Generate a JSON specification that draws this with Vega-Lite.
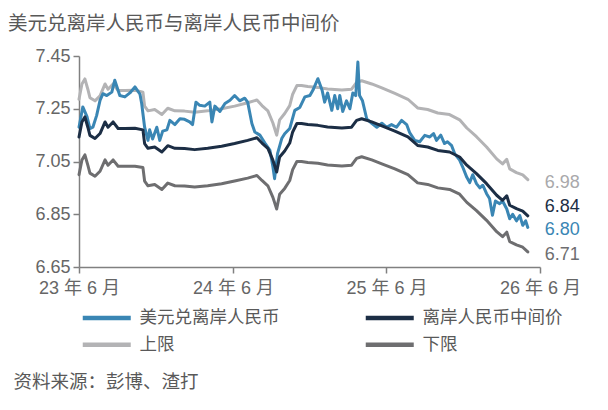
{
  "$schema": "https://vega.github.io/schema/vega-lite/v6.json",
  "width": 461,
  "height": 211,
  "autosize": {"type": "none"},
  "padding": {"left": 79, "top": 56, "right": 68, "bottom": 143},
  "title": {
    "text": "美元兑离岸人民币与离岸人民币中间价",
    "anchor": "start",
    "frame": "group",
    "dx": -71,
    "dy": 23,
    "offset": 21,
    "baseline": "alphabetic",
    "fontSize": 19.5,
    "fontWeight": "normal",
    "color": "#595959"
  },
  "datasets": {
    "spot": [
      {"date": "2023-06-01", "美元兑离岸人民币": 7.18},
      {"date": "2023-06-10", "美元兑离岸人民币": 7.257},
      {"date": "2023-06-20", "美元兑离岸人民币": 7.22},
      {"date": "2023-06-27", "美元兑离岸人民币": 7.175},
      {"date": "2023-07-04", "美元兑离岸人民币": 7.18},
      {"date": "2023-07-13", "美元兑离岸人民币": 7.225},
      {"date": "2023-07-21", "美元兑离岸人民币": 7.282},
      {"date": "2023-07-28", "美元兑离岸人民币": 7.307},
      {"date": "2023-08-06", "美元兑离岸人民币": 7.30},
      {"date": "2023-08-18", "美元兑离岸人民币": 7.313},
      {"date": "2023-08-25", "美元兑离岸人民币": 7.358},
      {"date": "2023-09-06", "美元兑离岸人民币": 7.30},
      {"date": "2023-09-18", "美元兑离岸人民币": 7.295},
      {"date": "2023-09-30", "美元兑离岸人民币": 7.31},
      {"date": "2023-10-12", "美元兑离岸人民币": 7.333},
      {"date": "2023-10-24", "美元兑离岸人民币": 7.305},
      {"date": "2023-10-28", "美元兑离岸人民币": 7.27},
      {"date": "2023-11-04", "美元兑离岸人民币": 7.18},
      {"date": "2023-11-12", "美元兑离岸人民币": 7.13},
      {"date": "2023-11-16", "美元兑离岸人民币": 7.17},
      {"date": "2023-11-23", "美元兑离岸人民币": 7.135},
      {"date": "2023-12-03", "美元兑离岸人民币": 7.18},
      {"date": "2023-12-10", "美元兑离岸人民币": 7.13},
      {"date": "2023-12-17", "美元兑离岸人民币": 7.165},
      {"date": "2023-12-27", "美元兑离岸人民币": 7.17},
      {"date": "2024-01-03", "美元兑离岸人民币": 7.206},
      {"date": "2024-01-15", "美元兑离岸人民币": 7.19},
      {"date": "2024-01-27", "美元兑离岸人民币": 7.212},
      {"date": "2024-02-07", "美元兑离岸人民币": 7.21},
      {"date": "2024-02-19", "美元兑离岸人民币": 7.20},
      {"date": "2024-02-26", "美元兑离岸人民币": 7.19},
      {"date": "2024-03-05", "美元兑离岸人民币": 7.275},
      {"date": "2024-03-14", "美元兑离岸人民币": 7.263},
      {"date": "2024-03-26", "美元兑离岸人民币": 7.26},
      {"date": "2024-04-07", "美元兑离岸人民币": 7.275},
      {"date": "2024-04-12", "美元兑离岸人民币": 7.20},
      {"date": "2024-04-19", "美元兑离岸人民币": 7.26},
      {"date": "2024-05-01", "美元兑离岸人民币": 7.24},
      {"date": "2024-05-13", "美元兑离岸人民币": 7.27},
      {"date": "2024-05-25", "美元兑离岸人民币": 7.282},
      {"date": "2024-06-05", "美元兑离岸人民币": 7.30},
      {"date": "2024-06-17", "美元兑离岸人民币": 7.28},
      {"date": "2024-06-29", "美元兑离岸人民币": 7.29},
      {"date": "2024-07-06", "美元兑离岸人民币": 7.275},
      {"date": "2024-07-16", "美元兑离岸人民币": 7.194},
      {"date": "2024-07-23", "美元兑离岸人民币": 7.162},
      {"date": "2024-08-04", "美元兑离岸人民币": 7.15},
      {"date": "2024-08-16", "美元兑离岸人民币": 7.12},
      {"date": "2024-08-28", "美元兑离岸人民币": 7.092},
      {"date": "2024-09-04", "美元兑离岸人民币": 7.03},
      {"date": "2024-09-08", "美元兑离岸人民币": 6.985},
      {"date": "2024-09-15", "美元兑离岸人民币": 7.08},
      {"date": "2024-09-25", "美元兑离岸人民币": 7.137},
      {"date": "2024-10-02", "美元兑离岸人民币": 7.155},
      {"date": "2024-10-14", "美元兑离岸人民币": 7.175},
      {"date": "2024-10-26", "美元兑离岸人民币": 7.244},
      {"date": "2024-11-07", "美元兑离岸人民币": 7.255},
      {"date": "2024-11-19", "美元兑离岸人民币": 7.295},
      {"date": "2024-12-01", "美元兑离岸人民币": 7.30},
      {"date": "2024-12-08", "美元兑离岸人民币": 7.32},
      {"date": "2024-12-20", "美元兑离岸人民币": 7.364},
      {"date": "2024-12-30", "美元兑离岸人民币": 7.32},
      {"date": "2025-01-05", "美元兑离岸人民币": 7.275},
      {"date": "2025-01-12", "美元兑离岸人民币": 7.31},
      {"date": "2025-01-22", "美元兑离岸人民币": 7.244},
      {"date": "2025-01-29", "美元兑离岸人民币": 7.30},
      {"date": "2025-02-05", "美元兑离岸人民币": 7.25},
      {"date": "2025-02-10", "美元兑离岸人民币": 7.30},
      {"date": "2025-02-17", "美元兑离岸人民币": 7.24},
      {"date": "2025-02-26", "美元兑离岸人民币": 7.28},
      {"date": "2025-03-06", "美元兑离岸人民币": 7.25},
      {"date": "2025-03-13", "美元兑离岸人民币": 7.31},
      {"date": "2025-03-20", "美元兑离岸人民币": 7.30},
      {"date": "2025-03-25", "美元兑离岸人民币": 7.427},
      {"date": "2025-03-29", "美元兑离岸人民币": 7.30},
      {"date": "2025-04-05", "美元兑离岸人民币": 7.28},
      {"date": "2025-04-15", "美元兑离岸人民币": 7.212},
      {"date": "2025-04-27", "美元兑离岸人民币": 7.195},
      {"date": "2025-05-09", "美元兑离岸人民币": 7.18},
      {"date": "2025-05-21", "美元兑离岸人民币": 7.195},
      {"date": "2025-06-01", "美元兑离岸人民币": 7.18},
      {"date": "2025-06-13", "美元兑离岸人民币": 7.19},
      {"date": "2025-06-25", "美元兑离岸人民币": 7.18},
      {"date": "2025-07-07", "美元兑离岸人民币": 7.206},
      {"date": "2025-07-19", "美元兑离岸人民币": 7.19},
      {"date": "2025-07-26", "美元兑离岸人民币": 7.16},
      {"date": "2025-08-07", "美元兑离岸人民币": 7.13},
      {"date": "2025-08-19", "美元兑离岸人民币": 7.125},
      {"date": "2025-08-31", "美元兑离岸人民币": 7.149},
      {"date": "2025-09-12", "美元兑离岸人民币": 7.143},
      {"date": "2025-09-21", "美元兑离岸人民币": 7.156},
      {"date": "2025-09-28", "美元兑离岸人民币": 7.13},
      {"date": "2025-10-08", "美元兑离岸人民币": 7.15},
      {"date": "2025-10-17", "美元兑离岸人民币": 7.118},
      {"date": "2025-10-24", "美元兑离岸人民币": 7.125},
      {"date": "2025-11-03", "美元兑离岸人民币": 7.11},
      {"date": "2025-11-10", "美元兑离岸人民币": 7.08},
      {"date": "2025-11-22", "美元兑离岸人民币": 7.055},
      {"date": "2025-11-29", "美元兑离岸人民币": 7.03},
      {"date": "2025-12-09", "美元兑离岸人民币": 6.99},
      {"date": "2025-12-16", "美元兑离岸人民币": 6.97},
      {"date": "2025-12-23", "美元兑离岸人民币": 7.00},
      {"date": "2026-01-01", "美元兑离岸人民币": 6.966},
      {"date": "2026-01-09", "美元兑离岸人民币": 6.95},
      {"date": "2026-01-16", "美元兑离岸人民币": 6.96},
      {"date": "2026-01-25", "美元兑离岸人民币": 6.928},
      {"date": "2026-02-01", "美元兑离岸人民币": 6.91},
      {"date": "2026-02-08", "美元兑离岸人民币": 6.846},
      {"date": "2026-02-15", "美元兑离岸人民币": 6.90},
      {"date": "2026-02-25", "美元兑离岸人民币": 6.89},
      {"date": "2026-03-04", "美元兑离岸人民币": 6.90},
      {"date": "2026-03-14", "美元兑离岸人民币": 6.87},
      {"date": "2026-03-21", "美元兑离岸人民币": 6.833},
      {"date": "2026-03-28", "美元兑离岸人民币": 6.85},
      {"date": "2026-04-06", "美元兑离岸人民币": 6.825},
      {"date": "2026-04-14", "美元兑离岸人民币": 6.845},
      {"date": "2026-04-21", "美元兑离岸人民币": 6.808},
      {"date": "2026-04-28", "美元兑离岸人民币": 6.825},
      {"date": "2026-05-03", "美元兑离岸人民币": 6.80}
    ],
    "band": [
      {"date": "2023-06-01", "离岸人民币中间价": 7.143, "上限": 7.286, "下限": 7.000},
      {"date": "2023-06-08", "离岸人民币中间价": 7.200, "上限": 7.344, "下限": 7.056},
      {"date": "2023-06-15", "离岸人民币中间价": 7.219, "上限": 7.363, "下限": 7.075},
      {"date": "2023-06-22", "离岸人民币中间价": 7.180, "上限": 7.324, "下限": 7.036},
      {"date": "2023-06-27", "离岸人民币中间价": 7.149, "上限": 7.292, "下限": 7.006},
      {"date": "2023-07-09", "离岸人民币中间价": 7.137, "上限": 7.280, "下限": 6.994},
      {"date": "2023-07-21", "离岸人民币中间价": 7.156, "上限": 7.299, "下限": 7.013},
      {"date": "2023-08-02", "离岸人民币中间价": 7.200, "上限": 7.344, "下限": 7.056},
      {"date": "2023-08-09", "离岸人民币中间价": 7.180, "上限": 7.324, "下限": 7.036},
      {"date": "2023-08-21", "离岸人民币中间价": 7.200, "上限": 7.344, "下限": 7.056},
      {"date": "2023-09-02", "离岸人民币中间价": 7.175, "上限": 7.319, "下限": 7.032},
      {"date": "2023-09-18", "离岸人民币中间价": 7.175, "上限": 7.319, "下限": 7.032},
      {"date": "2023-10-12", "离岸人民币中间价": 7.176, "上限": 7.320, "下限": 7.032},
      {"date": "2023-10-31", "离岸人民币中间价": 7.170, "上限": 7.313, "下限": 7.027},
      {"date": "2023-11-04", "离岸人民币中间价": 7.118, "上限": 7.260, "下限": 6.976},
      {"date": "2023-11-12", "离岸人民币中间价": 7.100, "上限": 7.242, "下限": 6.958},
      {"date": "2023-11-28", "离岸人民币中间价": 7.105, "上限": 7.247, "下限": 6.963},
      {"date": "2023-12-15", "离岸人民币中间价": 7.086, "上限": 7.228, "下限": 6.944},
      {"date": "2023-12-29", "离岸人民币中间价": 7.110, "上限": 7.252, "下限": 6.968},
      {"date": "2024-01-15", "离岸人民币中间价": 7.100, "上限": 7.242, "下限": 6.958},
      {"date": "2024-02-07", "离岸人民币中间价": 7.099, "上限": 7.241, "下限": 6.957},
      {"date": "2024-03-02", "离岸人民币中间价": 7.095, "上限": 7.237, "下限": 6.953},
      {"date": "2024-04-02", "离岸人民币中间价": 7.100, "上限": 7.242, "下限": 6.958},
      {"date": "2024-05-05", "离岸人民币中间价": 7.108, "上限": 7.250, "下限": 6.966},
      {"date": "2024-06-05", "离岸人民币中间价": 7.118, "上限": 7.260, "下限": 6.976},
      {"date": "2024-07-06", "离岸人民币中间价": 7.130, "上限": 7.273, "下限": 6.987},
      {"date": "2024-07-28", "离岸人民币中间价": 7.140, "上限": 7.283, "下限": 6.997},
      {"date": "2024-08-09", "离岸人民币中间价": 7.120, "上限": 7.262, "下限": 6.978},
      {"date": "2024-08-23", "离岸人民币中间价": 7.100, "上限": 7.242, "下限": 6.958},
      {"date": "2024-09-04", "离岸人民币中间价": 7.055, "上限": 7.196, "下限": 6.914},
      {"date": "2024-09-13", "离岸人民币中间价": 7.010, "上限": 7.150, "下限": 6.870},
      {"date": "2024-09-20", "离岸人民币中间价": 7.067, "上限": 7.208, "下限": 6.926},
      {"date": "2024-10-02", "离岸人民币中间价": 7.090, "上限": 7.232, "下限": 6.948},
      {"date": "2024-10-14", "离岸人民币中间价": 7.120, "上限": 7.262, "下限": 6.978},
      {"date": "2024-10-21", "离岸人民币中间价": 7.162, "上限": 7.305, "下限": 7.019},
      {"date": "2024-10-31", "离岸人民币中间价": 7.194, "上限": 7.338, "下限": 7.050},
      {"date": "2024-11-11", "离岸人民币中间价": 7.194, "上限": 7.338, "下限": 7.050},
      {"date": "2024-11-26", "离岸人民币中间价": 7.190, "上限": 7.334, "下限": 7.046},
      {"date": "2024-12-20", "离岸人民币中间价": 7.187, "上限": 7.331, "下限": 7.043},
      {"date": "2025-01-12", "离岸人民币中间价": 7.181, "上限": 7.325, "下限": 7.037},
      {"date": "2025-02-15", "离岸人民币中间价": 7.177, "上限": 7.321, "下限": 7.033},
      {"date": "2025-03-10", "离岸人民币中间价": 7.180, "上限": 7.324, "下限": 7.036},
      {"date": "2025-03-22", "离岸人民币中间价": 7.206, "上限": 7.350, "下限": 7.062},
      {"date": "2025-04-03", "离岸人民币中间价": 7.212, "上限": 7.356, "下限": 7.068},
      {"date": "2025-04-27", "离岸人民币中间价": 7.200, "上限": 7.344, "下限": 7.056},
      {"date": "2025-05-21", "离岸人民币中间价": 7.185, "上限": 7.329, "下限": 7.041},
      {"date": "2025-06-21", "离岸人民币中间价": 7.165, "上限": 7.308, "下限": 7.022},
      {"date": "2025-07-22", "离岸人民币中间价": 7.143, "上限": 7.286, "下限": 7.000},
      {"date": "2025-08-14", "离岸人民币中间价": 7.111, "上限": 7.253, "下限": 6.969},
      {"date": "2025-09-07", "离岸人民币中间价": 7.105, "上限": 7.247, "下限": 6.963},
      {"date": "2025-10-01", "离岸人民币中间价": 7.092, "上限": 7.234, "下限": 6.950},
      {"date": "2025-10-29", "离岸人民币中间价": 7.086, "上限": 7.228, "下限": 6.944},
      {"date": "2025-11-22", "离岸人民币中间价": 7.067, "上限": 7.208, "下限": 6.926},
      {"date": "2025-12-09", "离岸人民币中间价": 7.036, "上限": 7.177, "下限": 6.895},
      {"date": "2026-01-01", "离岸人民币中间价": 7.004, "上限": 7.144, "下限": 6.864},
      {"date": "2026-01-25", "离岸人民币中间价": 6.966, "上限": 7.105, "下限": 6.827},
      {"date": "2026-02-18", "离岸人民币中间价": 6.922, "上限": 7.060, "下限": 6.784},
      {"date": "2026-03-04", "离岸人民币中间价": 6.903, "上限": 7.041, "下限": 6.765},
      {"date": "2026-03-14", "离岸人民币中间价": 6.920, "上限": 7.058, "下限": 6.782},
      {"date": "2026-03-21", "离岸人民币中间价": 6.884, "上限": 7.022, "下限": 6.746},
      {"date": "2026-04-06", "离岸人民币中间价": 6.871, "上限": 7.008, "下限": 6.734},
      {"date": "2026-04-21", "离岸人民币中间价": 6.862, "上限": 6.999, "下限": 6.725},
      {"date": "2026-05-03", "离岸人民币中间价": 6.844, "上限": 6.981, "下限": 6.707}
    ]
  },
  "encoding": {
    "x": {
      "field": "date",
      "type": "temporal",
      "scale": {
        "type": "utc",
        "domain": [
          {"year": 2023, "month": 6, "date": 1, "utc": true},
          {"year": 2026, "month": 6, "date": 1, "utc": true}
        ]
      },
      "axis": {
        "values": [
          {"year": 2023, "month": 6, "date": 1, "utc": true},
          {"year": 2024, "month": 6, "date": 1, "utc": true},
          {"year": 2025, "month": 6, "date": 1, "utc": true},
          {"year": 2026, "month": 6, "date": 1, "utc": true}
        ],
        "format": "%y 年 %-m 月",
        "labelFlush": false,
        "labelOverlap": false,
        "labelPadding": 6,
        "title": "资料来源：彭博、渣打",
        "titleX": -66,
        "titleY": 114,
        "titleAlign": "left",
        "titleBaseline": "middle",
        "titleFontSize": 18.5,
        "titleFontWeight": "normal",
        "titleColor": "#595959"
      }
    },
    "y": {
      "field": "v",
      "type": "quantitative",
      "scale": {"domain": [6.65, 7.45], "zero": false, "nice": false},
      "axis": {
        "values": [6.65, 6.85, 7.05, 7.25, 7.45],
        "format": ".2f",
        "title": null,
        "labelPadding": 3
      }
    }
  },
  "layer": [
    {
      "data": {"name": "band"},
      "transform": [{"fold": ["上限", "下限"], "as": ["s", "v"]}],
      "mark": {"type": "line", "strokeWidth": 3, "strokeJoin": "round", "strokeCap": "round"},
      "encoding": {
        "color": {
          "field": "s",
          "type": "nominal",
          "scale": {
            "domain": ["美元兑离岸人民币", "离岸人民币中间价", "上限", "下限"],
            "range": ["#3A86B4", "#1C2E45", "#B3B3B5", "#6E6E70"]
          },
          "legend": {
            "orient": "none",
            "direction": "horizontal",
            "legendX": 19,
            "legendY": 253,
            "columns": 2,
            "title": null,
            "padding": 0,
            "symbolType": "M-4,0H4",
            "symbolSize": 144,
            "symbolStrokeWidth": 4.5,
            "labelOffset": 24,
            "labelFontSize": 17.5,
            "labelColor": "#595959",
            "columnPadding": 76,
            "rowPadding": 8
          }
        }
      }
    },
    {
      "data": {"name": "spot"},
      "transform": [{"fold": ["美元兑离岸人民币"], "as": ["s", "v"]}],
      "mark": {"type": "line", "strokeWidth": 3, "strokeJoin": "round", "strokeCap": "round"},
      "encoding": {"color": {"field": "s", "type": "nominal"}}
    },
    {
      "data": {"name": "band"},
      "transform": [{"fold": ["离岸人民币中间价"], "as": ["s", "v"]}],
      "mark": {"type": "line", "strokeWidth": 3, "strokeJoin": "round", "strokeCap": "round"},
      "encoding": {"color": {"field": "s", "type": "nominal"}}
    },
    {
      "data": {"name": "band"},
      "transform": [{"filter": "utcyear(datum.date) == 2026 && utcmonth(datum.date) == 4 && utcdate(datum.date) == 3"}],
      "mark": {"type": "text", "align": "left", "baseline": "middle", "dx": 17, "dy": 3, "fontSize": 18, "color": "#A9A9AB"},
      "encoding": {
        "y": {"field": "上限", "type": "quantitative"},
        "text": {"field": "上限", "type": "quantitative", "format": ".2f"}
      }
    },
    {
      "data": {"name": "band"},
      "transform": [{"filter": "utcyear(datum.date) == 2026 && utcmonth(datum.date) == 4 && utcdate(datum.date) == 3"}],
      "mark": {"type": "text", "align": "left", "baseline": "middle", "dx": 17, "dy": -9, "fontSize": 18, "color": "#1C2E45"},
      "encoding": {
        "y": {"field": "离岸人民币中间价", "type": "quantitative"},
        "text": {"field": "离岸人民币中间价", "type": "quantitative", "format": ".2f"}
      }
    },
    {
      "data": {"name": "band"},
      "transform": [{"filter": "utcyear(datum.date) == 2026 && utcmonth(datum.date) == 4 && utcdate(datum.date) == 3"}],
      "mark": {"type": "text", "align": "left", "baseline": "middle", "dx": 17, "dy": 3, "fontSize": 18, "color": "#6E6E70"},
      "encoding": {
        "y": {"field": "下限", "type": "quantitative"},
        "text": {"field": "下限", "type": "quantitative", "format": ".2f"}
      }
    },
    {
      "data": {"name": "spot"},
      "transform": [{"filter": "utcyear(datum.date) == 2026 && utcmonth(datum.date) == 4 && utcdate(datum.date) == 3"}],
      "mark": {"type": "text", "align": "left", "baseline": "middle", "dx": 17, "dy": 3, "fontSize": 18, "color": "#3A86B4"},
      "encoding": {
        "y": {"field": "美元兑离岸人民币", "type": "quantitative"},
        "text": {"field": "美元兑离岸人民币", "type": "quantitative", "format": ".2f"}
      }
    }
  ],
  "config": {
    "view": {"stroke": null},
    "font": "Liberation Sans, Noto Sans CJK SC",
    "axis": {
      "grid": false,
      "domainColor": "#808080",
      "domainWidth": 1.5,
      "tickColor": "#808080",
      "tickWidth": 1.5,
      "tickSize": 6,
      "labelColor": "#666666",
      "labelFontSize": 18
    }
  }
}
